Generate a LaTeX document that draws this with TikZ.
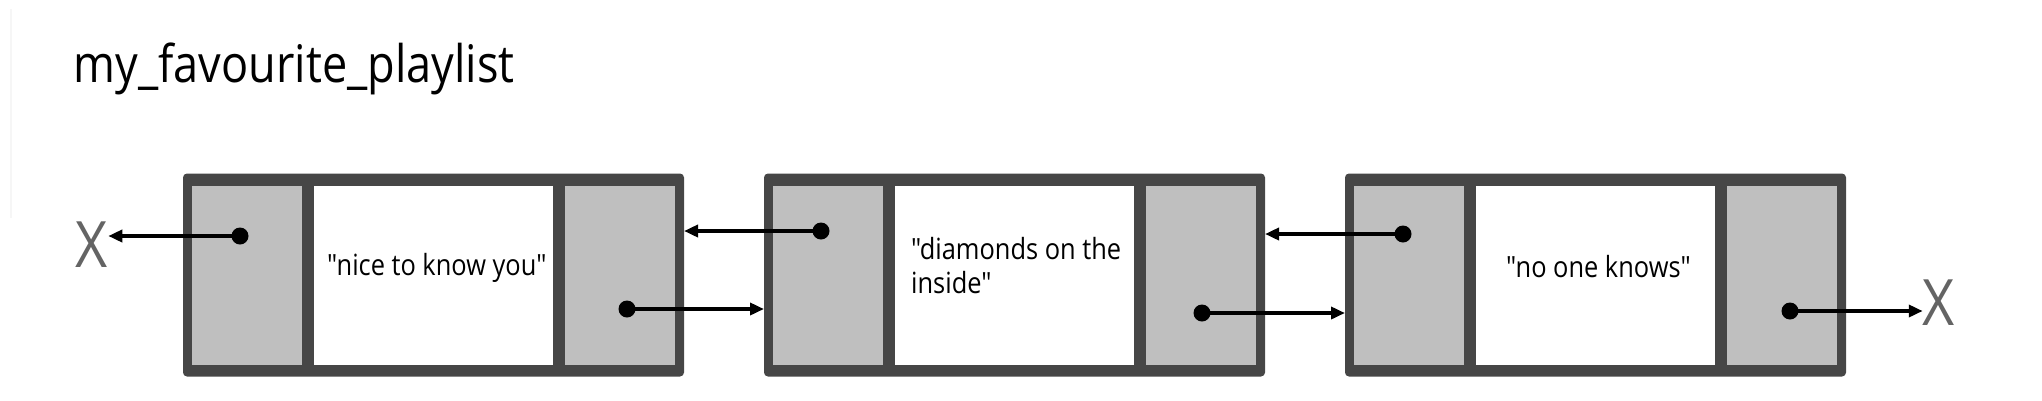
\documentclass[tikz,border=0pt]{standalone}
\usepackage{fontspec}
\setmainfont{Open Sans}[FakeStretch=0.87, Ligatures=TeXOff]
\usepackage{tikz}
\usetikzlibrary{arrows.meta, positioning}
\definecolor{framegray}{HTML}{464646}
\definecolor{cellgray}{HTML}{BFBFBF}
\definecolor{nilgray}{HTML}{646464}

\begin{document}
\begin{tikzpicture}[
        x=1pt, y=-1pt,
        listbox/.style={rectangle, fill=framegray, rounded corners=4pt, minimum width=501pt, minimum height=203pt, inner sep=0pt, outer sep=0pt},
        ptrcell/.style={rectangle, fill=cellgray, minimum width=110pt, minimum height=179pt, inner sep=0pt, outer sep=0pt},
        datacell/.style={rectangle, fill=white, minimum width=239pt, minimum height=179pt, inner sep=0pt, outer sep=0pt},
        songtext/.style={inner sep=0pt, font=\fontsize{29.2}{34}\selectfont},
        ptrdot/.style={circle, fill=black, minimum size=17pt, inner sep=0pt},
        nilmark/.style={inner sep=0pt, text=nilgray, font=\fontsize{64}{64}\selectfont},
        link/.style={-{Triangle[length=14pt, width=12pt]}, line width=4pt}
    ]
    \useasboundingbox (0,0) rectangle (2042,400);
    \draw [gray!7, line width=1.5pt] (11,9) -- (11,218);

    \node (title) [anchor=base west, inner sep=0pt, font=\fontsize{51.8}{60}\selectfont] at (73.5,82) {my\_favourite\_playlist};

    % Elements
    \node (box1) [listbox] at (433.5,275) {};
    \node (box2) [listbox, right=80pt of box1] {};
    \node (box3) [listbox, right=80pt of box2] {};

    \node (prev1) [ptrcell, anchor=west] at ([xshift=9pt]box1.west) {};
    \node (data1) [datacell, right=12pt of prev1] {};
    \node (next1) [ptrcell, right=12pt of data1] {};
    \node (prev2) [ptrcell, anchor=west] at ([xshift=9pt]box2.west) {};
    \node (data2) [datacell, right=12pt of prev2] {};
    \node (next2) [ptrcell, right=12pt of data2] {};
    \node (prev3) [ptrcell, anchor=west] at ([xshift=9pt]box3.west) {};
    \node (data3) [datacell, right=12pt of prev3] {};
    \node (next3) [ptrcell, right=12pt of data3] {};

    \node (song1) [songtext, anchor=base west] at ([xshift=13pt]data1.west) {"nice to know you"};
    \node (song2) [songtext, anchor=base west, align=left] at ([xshift=16pt, yshift=-18pt]data2.west) {"diamonds on the\\inside"};
    \node (song3) [songtext, anchor=base west] at ([xshift=30pt, yshift=-2pt]data3.west) {"no one knows"};

    % Ends
    \node (nilL) [nilmark] at (92,244.5) {X};
    \node (nilR) [nilmark] at (1939,303) {X};

    % Pointers
    \node (prevdot1) [ptrdot] at ([xshift=-7pt, yshift=39pt]prev1.center) {};
    \node (nextdot1) [ptrdot] at ([xshift=7pt, yshift=-34pt]next1.center) {};
    \node (prevdot2) [ptrdot] at ([xshift=-7pt, yshift=44pt]prev2.center) {};
    \node (nextdot2) [ptrdot] at ([xshift=1pt, yshift=-38pt]next2.center) {};
    \node (prevdot3) [ptrdot] at ([xshift=-6pt, yshift=41pt]prev3.center) {};
    \node (nextdot3) [ptrdot] at ([xshift=8pt, yshift=-36pt]next3.center) {};

    \draw [link] (prevdot1.center) -- (prevdot1.center -| nilL.east);
    \draw [link] (nextdot1.center) -- (nextdot1.center -| box2.west);
    \draw [link] (prevdot2.center) -- (prevdot2.center -| box1.east);
    \draw [link] (nextdot2.center) -- (nextdot2.center -| box3.west);
    \draw [link] (prevdot3.center) -- (prevdot3.center -| box2.east);
    \draw [link] (nextdot3.center) -- (nextdot3.center -| nilR.west);

\end{tikzpicture}
\end{document}
